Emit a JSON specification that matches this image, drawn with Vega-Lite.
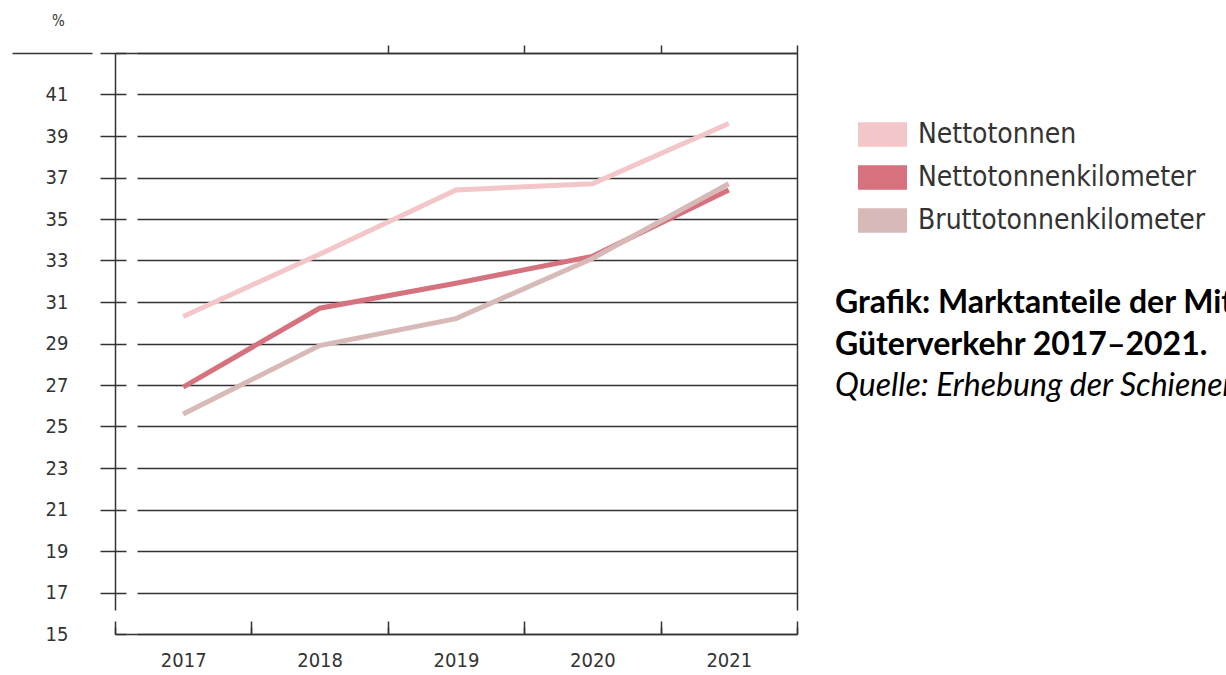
{
  "$schema": "https://vega.github.io/schema/vega-lite/v6.json",
  "width": 682,
  "height": 581,
  "autosize": {"type": "none"},
  "padding": {"left": 115, "top": 53, "right": 429, "bottom": 41},
  "background": "white",
  "title": {
    "text": ["Grafik: Marktanteile der Mitbewerber im", "Güterverkehr 2017–2021."],
    "subtitle": "Quelle: Erhebung der Schienen-Control",
    "orient": "top",
    "anchor": "start",
    "frame": "group",
    "dx": 720,
    "offset": -390,
    "font": "Lato",
    "fontSize": 32,
    "fontWeight": "bold",
    "color": "#000000",
    "lineHeight": 42,
    "subtitleFont": "Lato",
    "subtitleFontSize": 32,
    "subtitleFontStyle": "italic",
    "subtitleColor": "#000000",
    "subtitlePadding": 9
  },
  "config": {"view": {"stroke": null}},
  "data": {
    "values": [
      {"year": "2017", "series": "Nettotonnen", "value": 30.3},
      {"year": "2018", "series": "Nettotonnen", "value": 33.3},
      {"year": "2019", "series": "Nettotonnen", "value": 36.4},
      {"year": "2020", "series": "Nettotonnen", "value": 36.7},
      {"year": "2021", "series": "Nettotonnen", "value": 39.6},
      {"year": "2017", "series": "Nettotonnenkilometer", "value": 26.9},
      {"year": "2018", "series": "Nettotonnenkilometer", "value": 30.7},
      {"year": "2019", "series": "Nettotonnenkilometer", "value": 31.9},
      {"year": "2020", "series": "Nettotonnenkilometer", "value": 33.2},
      {"year": "2021", "series": "Nettotonnenkilometer", "value": 36.4},
      {"year": "2017", "series": "Bruttotonnenkilometer", "value": 25.6},
      {"year": "2018", "series": "Bruttotonnenkilometer", "value": 28.9},
      {"year": "2019", "series": "Bruttotonnenkilometer", "value": 30.2},
      {"year": "2020", "series": "Bruttotonnenkilometer", "value": 33.1},
      {"year": "2021", "series": "Bruttotonnenkilometer", "value": 36.7}
    ]
  },
  "layer": [
    {
      "mark": {"type": "line", "strokeWidth": 5},
      "encoding": {
        "x": {
          "field": "year",
          "type": "ordinal",
          "bandPosition": 0.5,
          "scale": {"type": "band", "paddingInner": 0, "paddingOuter": 0},
          "axis": {
            "orient": "bottom",
            "title": null,
            "tickBand": "extent",
            "tickSize": -13,
            "tickColor": "#333333",
            "tickWidth": 1.5,
            "domainColor": "#333333",
            "domainWidth": 1.5,
            "labelFont": "DejaVu Sans Condensed",
            "labelFontSize": 20,
            "labelColor": "#333333",
            "labelPadding": 29,
            "labelAngle": 0,
            "grid": false
          }
        },
        "y": {
          "field": "value",
          "type": "quantitative",
          "scale": {"domain": [15, 43], "nice": false, "zero": false},
          "axis": {
            "orient": "left",
            "values": [15, 17, 19, 21, 23, 25, 27, 29, 31, 33, 35, 37, 39, 41, 43],
            "title": "%",
            "titleAngle": 0,
            "titleX": -57,
            "titleY": -33,
            "titleAlign": "center",
            "titleBaseline": "middle",
            "titleFont": "DejaVu Sans Condensed",
            "titleFontSize": 15,
            "titleFontWeight": "normal",
            "titleColor": "#333333",
            "labelExpr": "datum.value == 43 ? '' : datum.label",
            "labelFont": "DejaVu Sans Condensed",
            "labelFontSize": 20,
            "labelColor": "#333333",
            "labelPadding": 32,
            "tickSize": {"condition": {"test": "datum.value == 43", "value": 103}, "value": 15},
            "tickDash": {"condition": {"test": "datum.value == 43", "value": [15, 8, 200]}, "value": []},
            "tickOpacity": {"condition": {"test": "datum.value == 15", "value": 0}, "value": 1},
            "tickColor": "#333333",
            "tickWidth": 1.5,
            "domainDash": [0, 24, 2000],
            "domainColor": "#333333",
            "domainWidth": 1.5,
            "grid": true,
            "gridDash": [11, 11, 2000],
            "gridColor": "#333333",
            "gridWidth": 1.5,
            "gridOpacity": 1
          }
        },
        "color": {
          "field": "series",
          "type": "nominal",
          "scale": {
            "domain": ["Nettotonnen", "Nettotonnenkilometer", "Bruttotonnenkilometer"],
            "range": ["#f3c6c9", "#d6717e", "#d7b9b8"]
          },
          "legend": {
            "orient": "none",
            "legendX": 743,
            "legendY": 57,
            "title": null,
            "symbolType": "M-1,-0.5H1V0.5H-1Z",
            "symbolSize": 2401,
            "symbolStrokeWidth": 0,
            "labelFont": "DejaVu Sans Condensed",
            "labelFontSize": 28,
            "labelLimit": 500,
            "labelColor": "#333333",
            "labelOffset": 11,
            "rowPadding": 4,
            "encode": {
              "symbols": {
                "update": {
                  "fill": {"scale": "color", "field": "value"},
                  "fillOpacity": {"value": 1},
                  "stroke": {"value": "transparent"}
                }
              }
            }
          }
        }
      }
    },
    {
      "mark": {"type": "point", "opacity": 0},
      "encoding": {
        "x": {
          "field": "year",
          "type": "ordinal",
          "scale": {"type": "band", "paddingInner": 0, "paddingOuter": 0},
          "axis": {
            "orient": "top",
            "title": null,
            "tickBand": "extent",
            "tickSize": 8,
            "labels": false,
            "domainColor": "#333333",
            "domainWidth": 1.5,
            "tickColor": "#333333",
            "tickWidth": 1.5,
            "tickOpacity": {"condition": {"test": "datum.value == '2017' || datum.extra", "value": 0}, "value": 1},
            "grid": true,
            "gridDash": [7, 2000],
            "gridColor": "#333333",
            "gridWidth": 1.5,
            "gridOpacity": 1
          }
        },
        "y": {
          "field": "value",
          "type": "quantitative",
          "scale": {"domain": [15, 43], "nice": false, "zero": false},
          "axis": {
            "orient": "right",
            "title": null,
            "labels": false,
            "ticks": false,
            "grid": false,
            "domainDash": [0, 24, 2000],
            "domainColor": "#333333",
            "domainWidth": 1.5
          }
        }
      }
    }
  ],
  "resolve": {"axis": {"x": "independent", "y": "independent"}}
}
